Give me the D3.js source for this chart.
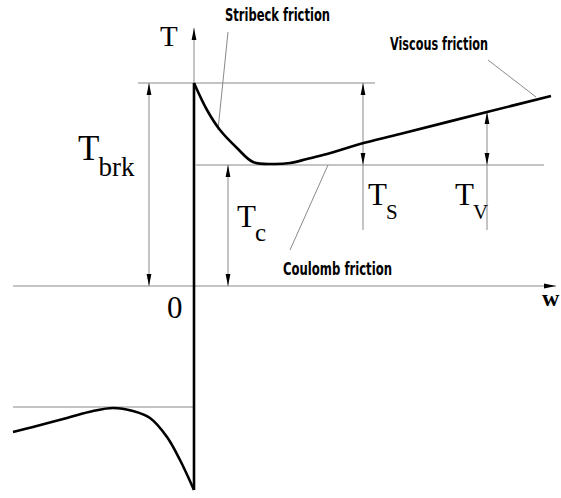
<!DOCTYPE html>
<html>
<head>
<meta charset="utf-8">
<script src="https://cdn.jsdelivr.net/npm/d3@7"></script>
<style>
  body { margin: 0; background: #fff; }
  svg { display: block; }
</style>
</head>
<body>
<div id="chart"></div>
<script>
// friction curve (w, torque)
const posW = [0, 0.13, 0.26, 0.43, 0.59, 0.79, 0.96, 1.13, 1.33, 1.66, 2.06, 2.93, 3.57];
const posT = [2.03, 1.76, 1.56, 1.38, 1.24, 1.22, 1.23, 1.27, 1.32, 1.42, 1.52, 1.74, 1.90];
const negW = [-1.81, -1.61, -1.27, -1.01, -0.81, -0.61, -0.44, -0.27, -0.14, 0];
const negT = [-1.46, -1.41, -1.32, -1.25, -1.22, -1.25, -1.32, -1.51, -1.74, -2.04];

// reference levels
const tBrk = 2.03;
const tC = 1.21;

// dimension arrows: [w, from T, to T, line end T]
const dimW = [-0.45, 0.34, 1.69, 2.93];
const dimFrom = [tBrk, tC, tBrk, 1.74];
const dimTo = [0, 0, tC, tC];
const dimEnd = [0, 0, 0.56, 0.56];

// symbol labels
const symMain = ['T', 'T', 'T', 'T'];
const symSub = ['brk', 'c', 'S', 'V'];
const symW = [-1.16, 0.43, 1.74, 2.61];
const symT = [1.26, 0.59, 0.81, 0.81];

// callouts
const noteText = ['Stribeck friction', 'Viscous friction', 'Coulomb friction'];
const noteW = [0.31, 1.96, 0.89];
const noteT = [2.65, 2.36, 0.11];
const noteLen = [105, 98, 109];
const leadFrom = [[0.34, 2.54], [2.94, 2.26], [1.34, 1.21]];
const leadTo = [[0.24, 1.56], [3.42, 1.89], [0.96, 0.36]];

const width = 561, height = 498;

const svg = d3.select('#chart').append('svg')
    .attr('width', width)
    .attr('height', height);

const x = d3.scaleLinear().domain([-1.81, 3.57]).range([13, 551]);
const y = d3.scaleLinear().domain([-2.04, 2.66]).range([490, 20]);

const grey = '#8a8a8a';

svg.append('defs').append('marker')
    .attr('id', 'head')
    .attr('markerUnits', 'userSpaceOnUse')
    .attr('viewBox', '0 0 12 6')
    .attr('refX', 12).attr('refY', 3)
    .attr('markerWidth', 12).attr('markerHeight', 6)
    .attr('orient', 'auto-start-reverse')
  .append('path')
    .attr('d', 'M0,0.6L12,3L0,5.4Z')
    .attr('fill', '#000');

// axes
svg.append('line')
    .attr('x1', x(-1.81)).attr('x2', x(3.62))
    .attr('y1', y(0)).attr('y2', y(0))
    .attr('stroke', grey).attr('stroke-width', 1)
    .attr('marker-end', 'url(#head)');

svg.append('line')
    .attr('x1', x(0)).attr('x2', x(0))
    .attr('y1', y(-2.04)).attr('y2', y(2.58))
    .attr('stroke', grey).attr('stroke-width', 1)
    .attr('marker-end', 'url(#head)');

// level lines
const levels = [[-0.56, 1.81, tBrk], [0.02, 3.50, tC], [-1.81, 0, -tC]];
svg.selectAll('.level')
    .data(levels)
    .enter()
    .append('line')
    .attr('x1', d => x(d[0])).attr('x2', d => x(d[1]))
    .attr('y1', d => y(d[2])).attr('y2', d => y(d[2]))
    .attr('stroke', grey).attr('stroke-width', 1);

// dimension lines
const dims = dimW.map((w, i) => ({ w: w, a: dimFrom[i], b: dimTo[i], e: dimEnd[i] }));
svg.selectAll('.dimext')
    .data(dims)
    .enter()
    .append('line')
    .attr('x1', d => x(d.w)).attr('x2', d => x(d.w))
    .attr('y1', d => y(d.b)).attr('y2', d => y(d.e))
    .attr('stroke', grey).attr('stroke-width', 1);

svg.selectAll('.dim')
    .data(dims)
    .enter()
    .append('line')
    .attr('x1', d => x(d.w)).attr('x2', d => x(d.w))
    .attr('y1', d => y(d.a)).attr('y2', d => y(d.b))
    .attr('stroke', grey).attr('stroke-width', 1)
    .attr('marker-start', 'url(#head)')
    .attr('marker-end', 'url(#head)');

// leader lines
svg.selectAll('.lead')
    .data(leadFrom.map((p, i) => [p, leadTo[i]]))
    .enter()
    .append('line')
    .attr('x1', d => x(d[0][0])).attr('y1', d => y(d[0][1]))
    .attr('x2', d => x(d[1][0])).attr('y2', d => y(d[1][1]))
    .attr('stroke', grey).attr('stroke-width', 1);

// friction curve
const line = d3.line()
    .x(d => x(d[0]))
    .y(d => y(d[1]))
    .curve(d3.curveCatmullRom.alpha(0.5));

const branches = [
    negW.map((w, i) => [w, negT[i]]),
    posW.map((w, i) => [w, posT[i]]),
    [[0, negT[negT.length - 1]], [0, posT[0]]]
];

svg.selectAll('.curve')
    .data(branches)
    .enter()
    .append('path')
    .attr('d', line)
    .attr('fill', 'none')
    .attr('stroke', '#000')
    .attr('stroke-width', 2.6)
    .attr('stroke-linejoin', 'round');

// symbols
const sym = svg.selectAll('.sym')
    .data(symMain.map((m, i) => ({ m: m, s: symSub[i], w: symW[i], t: symT[i], i: i })))
    .enter()
    .append('text')
    .attr('x', d => x(d.w))
    .attr('y', d => y(d.t))
    .attr('font-family', '"Liberation Serif", "DejaVu Serif", serif')
    .attr('font-size', d => d.i === 0 ? 35 : 31);

sym.append('tspan').text(d => d.m);
sym.append('tspan')
    .attr('dy', d => d.i === 0 ? 16 : 14)
    .attr('dx', -1)
    .attr('font-size', d => d.i === 0 ? 27 : (d.i === 1 ? 25 : 21))
    .text(d => d.s);

// axis labels
svg.append('text')
    .attr('x', x(0) - 34).attr('y', 46)
    .attr('font-family', '"Liberation Serif", serif')
    .attr('font-size', 29)
    .text('T');

svg.append('text')
    .attr('x', x(0) - 27).attr('y', 318)
    .attr('font-family', '"Liberation Serif", serif')
    .attr('font-size', 31)
    .text('0');

svg.append('text')
    .attr('x', 542).attr('y', 306)
    .attr('font-family', '"Liberation Serif", serif')
    .attr('font-size', 24)
    .attr('font-weight', 'bold')
    .text('w');

// callout text
svg.selectAll('.note')
    .data(noteText)
    .enter()
    .append('text')
    .attr('x', (d, i) => x(noteW[i]))
    .attr('y', (d, i) => y(noteT[i]))
    .attr('font-family', '"DejaVu Sans Condensed", "DejaVu Sans", sans-serif')
    .attr('font-size', 17)
    .attr('font-weight', 'bold')
    .attr('textLength', (d, i) => noteLen[i])
    .attr('lengthAdjust', 'spacingAndGlyphs')
    .text(d => d);
</script>
</body>
</html>
